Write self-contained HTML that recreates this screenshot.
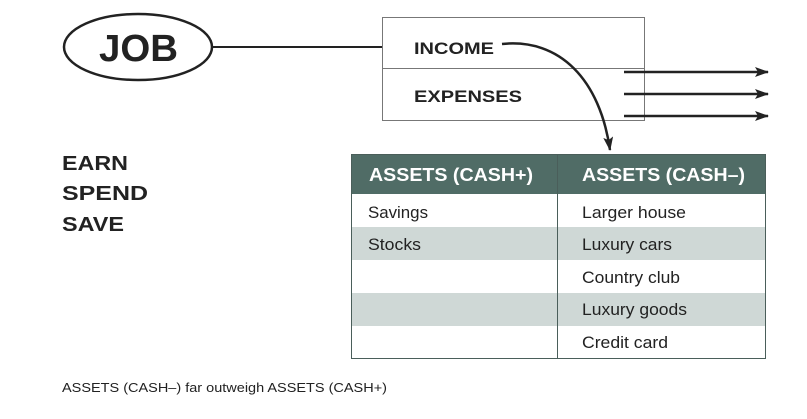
<!DOCTYPE html>
<html><head><style>
body{margin:0;width:807px;height:414px;background:#fff;overflow:hidden}
svg text{font-family:"Liberation Sans",sans-serif}
</style></head><body>
<svg width="807" height="414" xmlns="http://www.w3.org/2000/svg">
<defs><marker id="a" markerWidth="14" markerHeight="10" refX="13" refY="5" orient="auto" markerUnits="userSpaceOnUse"><path d="M0,0 L14,5 L0,10 L3,5 Z" fill="#222"/></marker></defs>
<ellipse cx="138" cy="47" rx="74" ry="33" fill="#fff" stroke="#222" stroke-width="2.5"/>
<text x="99" y="61" font-size="38" font-weight="bold" fill="#222" textLength="79" lengthAdjust="spacingAndGlyphs">JOB</text>
<line x1="212" y1="47" x2="383" y2="47" stroke="#222" stroke-width="2"/>
<rect x="382.5" y="17.5" width="262" height="103" fill="#fff" stroke="#777" stroke-width="1"/>
<line x1="382" y1="68.5" x2="644" y2="68.5" stroke="#777"/>
<g lengthAdjust="spacingAndGlyphs">
<text x="414" y="54" font-size="17" font-weight="bold" fill="#222" textLength="80" lengthAdjust="spacingAndGlyphs">INCOME</text>
<text x="414" y="102" font-size="17" font-weight="bold" fill="#222" textLength="108" lengthAdjust="spacingAndGlyphs">EXPENSES</text>
</g>
<g stroke="#222" stroke-width="2.5" marker-end="url(#a)">
<line x1="624" y1="72" x2="768" y2="72"/>
<line x1="624" y1="94" x2="768" y2="94"/>
<line x1="624" y1="116" x2="768" y2="116"/>
<path d="M502,44 C560,38 600,80 610,150" fill="none"/>
</g>
<text x="62" y="170" font-size="20" font-weight="bold" fill="#222" textLength="66" lengthAdjust="spacingAndGlyphs">EARN</text>
<text x="62" y="200" font-size="20" font-weight="bold" fill="#222" textLength="86" lengthAdjust="spacingAndGlyphs">SPEND</text>
<text x="62" y="231" font-size="20" font-weight="bold" fill="#222" textLength="62" lengthAdjust="spacingAndGlyphs">SAVE</text>
<rect x="351" y="154" width="415" height="40" fill="#506c66"/>
<rect x="351" y="227" width="415" height="33" fill="#cfd8d6"/>
<rect x="351" y="293" width="415" height="33" fill="#cfd8d6"/>
<rect x="351.5" y="154.5" width="414" height="204" fill="none" stroke="#4a5e5a"/>
<line x1="557.5" y1="154" x2="557.5" y2="358" stroke="#4a5e5a"/>
<text x="369" y="181" font-size="18" font-weight="bold" fill="#fff" textLength="164" lengthAdjust="spacingAndGlyphs">ASSETS (CASH+)</text>
<text x="582" y="181" font-size="18" font-weight="bold" fill="#fff" textLength="163" lengthAdjust="spacingAndGlyphs">ASSETS (CASH–)</text>
<g font-size="17" fill="#222">
<text x="368" y="218" textLength="60" lengthAdjust="spacingAndGlyphs">Savings</text>
<text x="368" y="250" textLength="53" lengthAdjust="spacingAndGlyphs">Stocks</text>
<text x="582" y="218" textLength="104" lengthAdjust="spacingAndGlyphs">Larger house</text>
<text x="582" y="250" textLength="90" lengthAdjust="spacingAndGlyphs">Luxury cars</text>
<text x="582" y="283" textLength="98" lengthAdjust="spacingAndGlyphs">Country club</text>
<text x="582" y="315" textLength="105" lengthAdjust="spacingAndGlyphs">Luxury goods</text>
<text x="582" y="348" textLength="86" lengthAdjust="spacingAndGlyphs">Credit card</text>
</g>
<text x="62" y="392" font-size="13" fill="#222" textLength="325" lengthAdjust="spacingAndGlyphs">ASSETS (CASH–) far outweigh ASSETS (CASH+)</text>
</svg>
</body></html>
